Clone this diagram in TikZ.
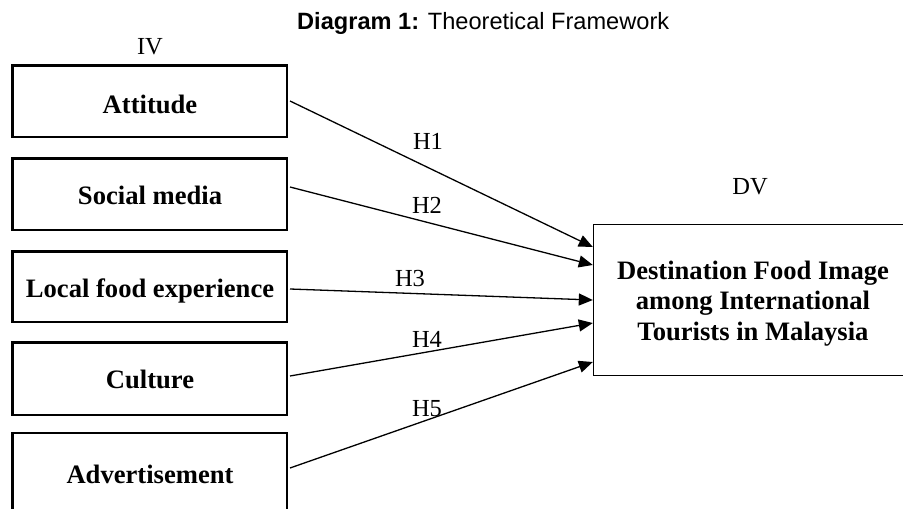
\documentclass[tikz,border=0pt]{standalone}
\usepackage{fontspec}
\setmainfont{Liberation Serif}
\newfontfamily\titlefont{Liberation Sans}
\usetikzlibrary{arrows.meta,calc}
\begin{document}
\begin{tikzpicture}[x=1pt,y=-1pt,
  ivbox/.style={draw, line width=2.5pt, minimum width=274.5pt, inner sep=0pt, anchor=center},
  dvbox/.style={draw, line width=1.4pt, minimum width=321pt, minimum height=150.5pt, inner sep=0pt},
  boxtext/.style={font=\fontsize{26.6}{30.5}\selectfont\bfseries, inner sep=0pt, anchor=base},
  lab/.style={font=\fontsize{24.5}{28}\selectfont, inner sep=0pt, anchor=base},
  arr/.style={line width=1.3pt, -{Triangle[length=14pt,width=12pt]}}]
\useasboundingbox (0,0) rectangle (903,509);
\clip (0,0) rectangle (903,509);
% title
\node[font=\titlefont\fontsize{23.6}{27}\selectfont, inner sep=0pt, anchor=base west] (title) at (297,29) {\textbf{Diagram 1:} Theoretical Framework};
% labels
\node[lab] (iv) at (150,54) {IV};
\node[lab] (dvl) at (750,194) {DV};
% IV boxes
\node[ivbox, minimum height=71.5pt] (att) at (149.5,101) {};
\node[ivbox, minimum height=71.5pt] (soc) at (149.5,194) {};
\node[ivbox, minimum height=70.5pt] (loc) at (149.5,286.5) {};
\node[ivbox, minimum height=72.5pt] (cul) at (149.5,378.5) {};
\node[ivbox, minimum height=86pt] (adv) at (149.5,476) {};
\node[boxtext] (tatt) at (150,113) {Attitude};
\node[boxtext] (tsoc) at (150,204) {Social media};
\node[boxtext] (tloc) at (150,297) {Local food experience};
\node[boxtext] (tcul) at (150,388) {Culture};
\node[boxtext] (tadv) at (150,483) {Advertisement};
% DV box
\node[dvbox] (dv) at (754,300) {};
\node[font=\fontsize{26.6}{30.5}\selectfont\bfseries, inner sep=0pt, align=center, anchor=center] (tdv) at (753,303.5) {Destination Food Image\\among International\\Tourists in Malaysia};
% connectors
\draw[arr] ($(att.east)+(2,0)$) -- ($(dv.west)+(0,-53)$);
\draw[arr] ($(soc.east)+(2,-7)$) -- ($(dv.west)+(0,-35)$);
\draw[arr] ($(loc.east)+(2,2.5)$) -- ($(dv.west)+(0,0)$);
\draw[arr] ($(cul.east)+(2,-2.5)$) -- ($(dv.west)+(0,23)$);
\draw[arr] ($(adv.east)+(2,-8)$) -- ($(dv.west)+(0,62)$);
% hypothesis labels
\node[lab] (h1) at (428,149) {H1};
\node[lab] (h2) at (427,213) {H2};
\node[lab] (h3) at (410,286) {H3};
\node[lab] (h4) at (427,347) {H4};
\node[lab] (h5) at (427,416) {H5};
\end{tikzpicture}
\end{document}
